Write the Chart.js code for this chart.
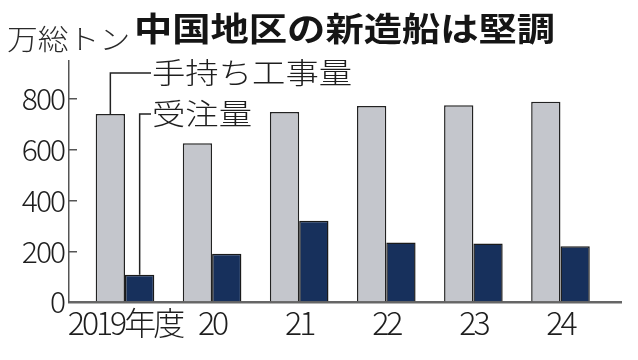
<!DOCTYPE html>
<html><head><meta charset="utf-8">
<script src="https://cdn.jsdelivr.net/npm/chart.js@4"></script>
<style>html,body{margin:0;padding:0;background:#fff}#wrap{width:638px;height:360px}</style>
</head><body><div id="wrap"><canvas id="c" width="638" height="360"></canvas></div>
<script>
// ---- data ----
const categories = ['2019年度', '20', '21', '22', '23', '24'];
const backlog = [741, 626, 749, 773, 776, 789];   // 手持ち工事量
const orders = [107, 190, 320, 235, 231, 220];    // 受注量
const yTickValues = [0, 200, 400, 600, 800];
const seriesNames = ['手持ち工事量', '受注量'];
const titleText = '中国地区の新造船は堅調';
const unitText = '万総トン';

const NUM_FONT = '"Noto Sans CJK JP", sans-serif';
const CJK_FONT = '"Noto Sans CJK JP", sans-serif';

function toXY(arr) { return arr.map((v, i) => ({ x: i, y: v })); }

function drawScaledText(ctx, text, x, y, font, sx, color) {
  ctx.save();
  ctx.font = font;
  ctx.fillStyle = color;
  ctx.textAlign = 'left';
  ctx.textBaseline = 'middle';
  ctx.translate(x, y);
  ctx.scale(sx, 1);
  ctx.fillText(text, 0, 0);
  ctx.restore();
}

// condensed tick labels: tighter letter spacing per axis
const condensedTicks = {
  id: 'condensedTicks',
  beforeDraw(chart) {
    [['x', '-3px'], ['y', '-2px']].forEach(([id, sp]) => {
      const s = chart.scales[id];
      if (!s || s._condensed) return;
      const orig = s.drawLabels.bind(s);
      s.drawLabels = function (area) {
        const ctx = this.ctx;
        ctx.save();
        ctx.letterSpacing = sp;
        orig(area);
        ctx.restore();
      };
      s._condensed = true;
    });
  }
};

const annotations = {
  id: 'annotations',
  afterDraw(chart) {
    const ctx = chart.ctx;
    drawScaledText(ctx, unitText, 7, 39, '300 28px ' + CJK_FONT, 1.1, '#2a2a2a');
    drawScaledText(ctx, titleText, 134, 28, '700 33px ' + CJK_FONT, 1.16, '#151515');
    const labelSpecs = [{ ds: 0, y: 73 }, { ds: 1, y: 114 }];
    const textX = 151;
    labelSpecs.forEach(spec => {
      const el = chart.getDatasetMeta(spec.ds).data[0];
      ctx.save();
      ctx.strokeStyle = '#222';
      ctx.lineWidth = 1.5;
      ctx.beginPath();
      ctx.moveTo(el.x, el.y);
      ctx.lineTo(el.x, spec.y);
      ctx.lineTo(textX, spec.y);
      ctx.stroke();
      ctx.restore();
      drawScaledText(ctx, seriesNames[spec.ds], textX + 1, spec.y, '300 29px ' + CJK_FONT, 1.15, '#1e1e1e');
    });
  }
};

new Chart(document.getElementById('c'), {
  type: 'bar',
  data: {
    datasets: [
      { label: seriesNames[0], data: toXY(backlog), backgroundColor: '#c4c6cc', borderColor: '#222', borderWidth: 1.5, borderSkipped: 'start' },
      { label: seriesNames[1], data: toXY(orders), backgroundColor: '#17305c', borderColor: '#1a1a1a', borderWidth: 1.5, borderSkipped: 'start' }
    ]
  },
  options: {
    responsive: false,
    animation: false,
    devicePixelRatio: 1,
    categoryPercentage: 0.673,
    barPercentage: 1,
    layout: { padding: { left: 0, right: 17, top: 61, bottom: 0 } },
    plugins: { legend: { display: false }, title: { display: false }, tooltip: { enabled: false } },
    scales: {
      x: {
        type: 'linear',
        offset: false,
        min: -0.643,
        max: 5.695,
        afterBuildTicks: (axis) => { axis.ticks = categories.map((_, i) => ({ value: i })); },
        afterFit: (scale) => { scale.height = 58; },
        grid: { display: false, drawTicks: false },
        border: { display: true, color: '#666', width: 2.5 },
        ticks: {
          autoSkip: false, maxRotation: 0, padding: 2,
          color: '#1e1e1e',
          font: { family: NUM_FONT, size: 32, weight: 300 },
          callback: (v) => categories[v]
        }
      },
      y: {
        min: 0,
        max: 950,
        afterBuildTicks: (axis) => { axis.ticks = yTickValues.map(v => ({ value: v })); },
        afterFit: (scale) => { scale.width = 69; },
        grid: { drawOnChartArea: false, drawTicks: true, tickLength: -8, color: '#555', lineWidth: 1.5 },
        border: { display: true, color: '#555', width: 1.5 },
        ticks: {
          padding: 13,
          color: '#1e1e1e',
          font: { family: NUM_FONT, size: 30, weight: 300 }
        }
      }
    }
  },
  plugins: [condensedTicks, annotations]
});
</script></body></html>
